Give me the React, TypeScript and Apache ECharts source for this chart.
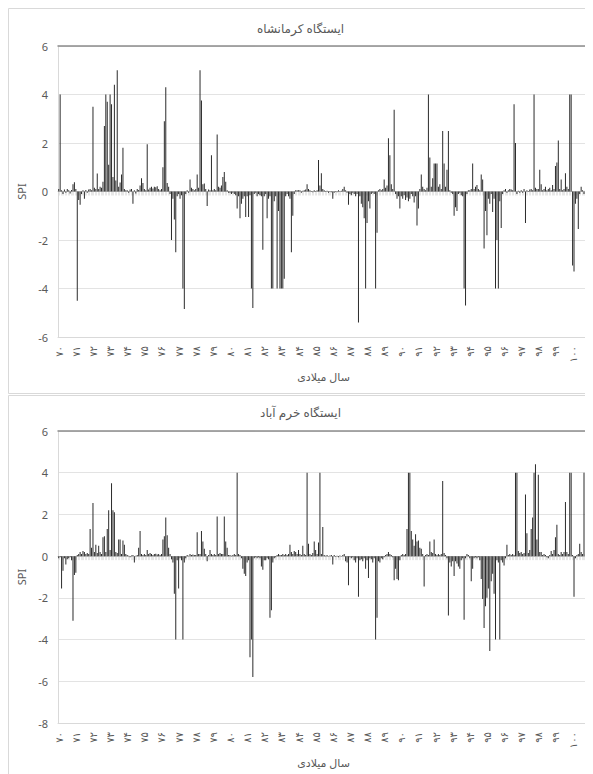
import React, { useEffect, useRef } from 'react';
import * as echarts from 'echarts';

const yearLabels = ['۷۰','۷۱','۷۲','۷۳','۷۴','۷۵','۷۶','۷۷','۷۸','۷۹','۸۰','۸۱','۸۲','۸۳','۸۴','۸۵','۸۶','۸۷','۸۸','۸۹','۹۰','۹۱','۹۲','۹۳','۹۴','۹۵','۹۶','۹۷','۹۸','۹۹','۱۰۰'];

const titles = ['ایستگاه کرمانشاه', 'ایستگاه خرم آباد'];
const xAxisTitle = 'سال میلادی';
const yAxisTitle = 'SPI';
const yMins = [-6, -8];
const yMaxs = [6, 6];

// monthly SPI, one row per year (12 months)
const kermanshahSPI: number[][] = [
  [0.1, 4.0, 0.05, -0.1, 0.08, -0.05, 0.1, 0.05, -0.08, 0.06, 0.3, 0.38],
  [0.1, -4.5, -0.35, -0.55, -0.1, 0.05, -0.3, 0.06, -0.05, 0.08, 0.1, 0.05],
  [3.5, 0.15, 0.1, 0.74, 0.1, 0.2, 0.15, 0.4, 2.7, 4.0, 3.7, 1.1],
  [4.0, 3.6, 0.6, 4.4, 0.45, 5.0, 0.2, 0.37, 0.7, 1.8, 0.1, 0.05],
  [0.05, -0.05, 0.08, 0.1, -0.5, 0.05, -0.08, 0.1, 0.06, 0.25, 0.55, 0.35],
  [0.1, 0.05, 1.95, 0.08, 0.15, 0.2, 0.12, 0.2, 0.18, 0.22, 0.1, 0.05],
  [0.1, 1.0, 2.9, 4.3, 0.35, 0.2, -0.1, -2.0, -0.3, -1.15, -2.5, -0.2],
  [-0.1, -0.3, -0.15, -4.0, -4.85, -0.1, 0.05, -0.05, 0.5, 0.15, 0.1, 0.05],
  [0.1, 0.7, 0.15, 5.0, 3.75, 0.3, 0.33, 0.1, -0.6, 0.08, 0.05, 1.5],
  [0.05, 0.1, 0.05, 2.35, 0.2, 0.15, 0.25, 0.6, 0.8, 0.4, 0.05, -0.05],
  [-0.05, -0.1, -0.05, -0.1, -0.15, -0.7, -0.2, -1.1, -0.5, -0.3, -0.2, -1.05],
  [-0.2, -1.05, -0.15, -4.0, -4.8, -0.1, -0.05, -0.2, -0.1, -0.15, -0.2, -2.4],
  [-0.2, -0.1, -1.1, -0.3, -0.2, -4.0, -4.0, -0.4, -0.2, -4.0, -0.8, -4.0],
  [-4.0, -4.0, -3.6, -0.2, -0.1, -0.2, -0.3, -2.5, -1.0, -0.1, 0.05, 0.05],
  [0.05, 0.05, -0.05, 0.03, 0.05, 0.08, 0.3, 0.1, 0.05, 0.02, -0.03, 0.05],
  [0.02, 0.05, 1.3, 0.25, 0.75, 0.1, 0.05, -0.02, 0.03, -0.05, 0.02, -0.03],
  [-0.3, -0.05, 0.02, -0.03, 0.05, -0.02, 0.03, 0.1, 0.2, 0.05, -0.05, -0.55],
  [-0.1, -0.15, -0.05, -0.1, -0.2, -0.1, -5.4, -0.2, -0.5, -0.65, -1.1, -4.0],
  [-1.3, -0.4, -0.7, -0.1, -0.05, -0.1, -4.0, -1.7, 0.05, 0.1, 0.05, 0.1],
  [0.5, 0.15, 0.25, 2.2, 1.5, 0.3, 0.1, 3.37, -0.1, -0.3, -0.2, -0.7],
  [-0.2, -0.3, -0.15, -0.35, -0.25, -0.4, -0.3, -0.1, -0.2, -0.45, -0.2, -1.4],
  [-0.7, 0.1, 0.7, 0.2, 0.1, 0.05, 0.15, 4.0, 1.4, 0.2, 0.55, 1.15],
  [1.15, 1.15, 0.2, 0.3, 0.1, 2.5, 1.15, 0.2, 0.9, 2.5, 0.05, -0.05],
  [-0.1, -1.0, -0.65, -0.8, -0.1, -0.05, -0.15, -0.2, -4.0, -4.7, -0.1, 0.05],
  [0.05, 0.1, 1.15, 0.1, 0.2, 0.27, 0.1, 0.05, 0.7, 0.5, -2.35, -0.8],
  [-1.8, -0.3, -0.5, -0.1, -0.85, -0.3, -4.0, -2.0, -4.0, -0.4, -1.5, -0.1],
  [0.05, 0.1, -0.05, 0.05, 0.1, 0.08, 0.05, 3.6, 2.0, -0.1, 0.03, -0.05],
  [0.05, -0.05, 0.1, -1.3, 0.05, 0.02, 0.08, 0.1, 0.05, 4.0, 0.15, 0.1],
  [0.1, 0.9, 0.3, 0.05, 0.1, 0.2, 0.05, 0.1, 0.15, 0.05, 0.27, 0.1],
  [1.05, 1.2, 2.1, 0.1, 0.5, 0.05, 0.1, 0.75, 0.2, 0.1, 4.0, 4.0],
  [-3.05, -3.3, -0.5, -0.3, -1.55, -0.1, 0.2, 0.05, -0.1, 0.05, -0.6, -4.0],
];

const khorramabadSPI: number[][] = [
  [-0.1, -0.05, -1.55, -0.7, -0.1, -0.4, -0.15, -0.1, -0.05, -0.2, -3.1, -0.9],
  [-0.8, 0.05, 0.1, 0.2, 0.1, 0.25, 0.2, 0.1, 0.15, 0.1, 1.3, 0.4],
  [2.55, 0.2, 0.55, 0.15, 0.5, 0.2, 0.1, 0.9, 0.95, 0.2, 1.3, 2.2],
  [0.3, 3.5, 2.2, 2.1, 0.2, 0.15, 0.8, 0.8, 0.1, 0.75, 0.55, 0.1],
  [0.05, 0.02, -0.05, 0.03, 0.05, -0.3, 0.02, 0.05, 0.4, 1.2, 0.1, 0.05],
  [0.1, 0.05, 0.3, 0.1, 0.15, 0.1, 0.05, 0.1, 0.12, 0.08, 0.1, 0.05],
  [0.1, 0.8, 0.95, 1.85, 1.0, 0.4, 0.1, -0.15, -0.3, -1.8, -4.0, -0.2],
  [-1.55, -0.1, -0.2, -4.0, -0.3, -0.1, 0.05, 0.02, 0.1, 0.05, 0.08, 0.05],
  [0.05, 1.15, 0.1, 0.1, 1.2, 0.7, 0.35, 0.1, -0.25, 0.05, 0.3, 0.1],
  [0.05, 0.1, 0.05, 1.9, 0.1, 0.15, 0.1, 0.1, 1.9, 0.7, 0.4, 0.05],
  [0.05, 0.02, 0.05, 0.1, 0.05, 4.0, 0.1, 0.05, -0.1, -0.6, -0.85, -0.95],
  [-0.3, -0.2, -4.85, -4.0, -5.8, -0.1, -0.05, -0.1, -0.05, -0.1, -0.5, -0.65],
  [-0.2, -0.2, -0.1, -0.15, -2.95, -2.6, -0.3, -0.1, -0.05, 0.05, 0.1, 0.05],
  [0.05, 0.1, 0.05, 0.1, 0.05, 0.1, 0.55, 0.2, 0.1, 0.25, 0.2, 0.1],
  [0.3, 0.1, 0.05, 0.5, 0.1, 0.05, 4.0, 0.6, 0.1, 0.05, 0.15, 0.7],
  [0.3, 0.1, 0.65, 4.0, 0.1, 1.4, 0.05, 0.02, 0.05, -0.02, 0.03, 0.05],
  [-0.4, 0.05, -0.03, 0.02, -0.05, 0.03, -0.02, 0.05, 0.1, -0.25, -0.3, -1.4],
  [-0.05, -0.1, -0.05, -0.2, -0.3, -0.1, -1.95, -0.2, -0.15, -0.25, -0.1, -0.6],
  [-0.2, -1.05, -0.1, -0.15, -0.3, -0.1, -4.0, -2.95, -0.25, -0.3, -0.1, -0.15],
  [-0.05, 0.05, 0.1, 0.2, 0.1, 0.05, -0.05, -1.15, -0.6, -1.1, -1.15, -0.2],
  [0.05, 0.1, 0.05, 0.1, 1.3, 4.0, 4.0, 1.2, 0.8, 0.5, 1.05, 0.7],
  [0.75, 0.4, 0.35, 0.1, -1.45, 0.05, 0.1, 0.05, 0.7, 0.2, 0.15, 0.8],
  [0.1, 0.05, 0.1, 0.05, 0.1, 3.6, 0.15, 0.05, -0.1, -2.85, -0.3, -0.5],
  [-0.25, -0.95, -0.25, -0.35, -0.5, -0.6, -0.2, -0.1, -3.05, -0.1, 0.1, 0.05],
  [-0.1, -1.2, -0.6, -0.1, -0.05, -0.1, -0.05, -0.2, -1.1, -2.05, -3.45, -2.4],
  [-2.0, -1.55, -4.55, -1.2, -0.85, -1.8, -4.0, -0.2, -0.3, -4.0, -0.2, -0.3],
  [-0.45, -0.1, 0.55, 0.05, 0.1, 0.05, 0.1, 0.05, 4.0, 4.0, 0.25, 0.15],
  [0.2, 0.1, 0.15, 2.95, 1.1, 0.15, 0.3, 1.3, 1.85, 4.0, 4.4, 0.8],
  [3.9, 0.2, 0.2, 0.05, 0.1, 0.05, -0.05, -0.1, 0.05, 0.25, 0.1, 0.3],
  [0.9, 1.5, 0.1, 0.05, 0.2, 0.1, 0.2, 2.6, 0.2, 0.1, 4.0, 4.0],
  [0.05, -1.95, -0.1, 0.05, 0.1, 0.6, 0.2, 0.1, 4.0, 0.1, 0.05, 4.3],
];

const FONT = "'Noto Sans', 'DejaVu Sans', sans-serif";
const TXT = '#595959';

export default function App() {
  const ref = useRef<HTMLDivElement>(null);
  useEffect(() => {
    if (!ref.current) return;
    const chart = echarts.init(ref.current, undefined, { renderer: 'svg' });
    const categories: string[] = [];
    yearLabels.forEach((y) => {
      for (let m = 1; m <= 12; m++) categories.push(y + '|' + m);
    });
    const seriesData = [kermanshahSPI.flat(), khorramabadSPI.flat()];
    const grids = [
      { left: 50, right: 4, top: 38, height: 291 },
      { left: 50, right: 4, top: 423, height: 292 },
    ];
    const xAxes: any[] = [];
    const yAxes: any[] = [];
    const series: any[] = [];
    [0, 1].forEach((p) => {
      xAxes.push({
        type: 'category', gridIndex: p, data: categories, position: 'bottom',
        axisLine: { onZero: false, lineStyle: { color: '#d9d9d9' } },
        axisTick: { show: false },
        splitLine: { show: false },
        axisLabel: {
          interval: (i: number) => i % 12 === 0,
          formatter: (_v: string, i: number) => yearLabels[Math.floor(i / 12)] || '',
          rotate: 90, margin: 9, fontSize: 10, color: TXT, fontFamily: FONT,
        },
        name: xAxisTitle, nameLocation: 'middle', nameGap: 34,
        nameTextStyle: { fontSize: 11, color: TXT, fontFamily: FONT },
      });
      xAxes.push({
        type: 'category', gridIndex: p, data: categories, position: 'bottom',
        axisLine: { onZero: true, lineStyle: { color: '#cccccc' } },
        axisTick: { show: true, interval: 0, length: 4, lineStyle: { color: '#d6d6d6', width: 0.6 } },
        axisLabel: { show: false },
        splitLine: { show: false },
      });
      xAxes.push({
        type: 'category', gridIndex: p, data: categories, position: 'top',
        axisLine: { onZero: false, lineStyle: { color: '#8c8c8c', width: 1.5 } },
        axisTick: { show: false },
        axisLabel: { show: false },
        splitLine: { show: false },
      });
      yAxes.push({
        type: 'value', gridIndex: p, min: yMins[p], max: yMaxs[p], interval: 2, position: 'left',
        axisLine: { show: true, onZero: false, lineStyle: { color: '#d9d9d9' } },
        axisTick: { show: false },
        axisLabel: { fontSize: 11, color: TXT, fontFamily: FONT, margin: 10 },
        splitLine: { lineStyle: { color: '#e3e3e3' } },
        name: yAxisTitle, nameLocation: 'middle', nameGap: 29,
        nameTextStyle: { fontSize: 11, color: TXT, fontFamily: FONT },
      });
      yAxes.push({
        type: 'value', gridIndex: p, min: yMins[p], max: yMaxs[p], interval: 2, position: 'right',
        axisLine: { show: true, onZero: false, lineStyle: { color: '#8c8c8c', width: 1.2 } },
        axisTick: { show: false },
        axisLabel: { show: false },
        splitLine: { show: false },
      });
      series.push({
        type: 'bar', xAxisIndex: p * 3, yAxisIndex: p * 2, data: seriesData[p],
        barWidth: 1, itemStyle: { color: '#2b2b2b' },
      });
    });
    chart.setOption({
      animation: false,
      backgroundColor: '#ffffff',
      title: [
        { text: titles[0], left: 'center', top: 9, textStyle: { fontSize: 12, fontWeight: 'normal', color: TXT, fontFamily: FONT } },
        { text: titles[1], left: 'center', top: 393, textStyle: { fontSize: 12, fontWeight: 'normal', color: TXT, fontFamily: FONT } },
      ],
      grid: grids,
      xAxis: xAxes,
      yAxis: yAxes,
      series,
      graphic: [
        { type: 'rect', silent: true, z: -10, shape: { x: 0.5, y: 0.5, width: 700, height: 385 }, style: { fill: 'none', stroke: '#d9d9d9', lineWidth: 1 } },
        { type: 'rect', silent: true, z: -10, shape: { x: 0.5, y: 387.5, width: 700, height: 500 }, style: { fill: 'none', stroke: '#d9d9d9', lineWidth: 1 } },
      ],
    });
    return () => chart.dispose();
  }, []);
  return <div ref={ref} style={{ width: 585, height: 766 }} />;
}
